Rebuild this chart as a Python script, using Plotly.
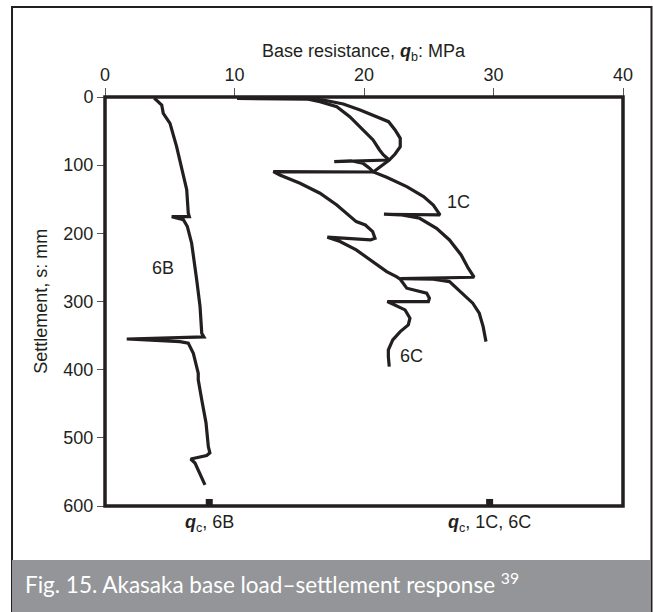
import plotly.graph_objects as go

# Base resistance q_b (MPa) against settlement s (mm) for the three test piles
pile_6b_q = [3.8, 4.38, 4.5, 5.02, 5.53, 6.05, 6.31, 6.43, 6.51, 5.15, 6.05, 6.36, 6.69,
             7.08, 7.34, 7.47, 7.64, 1.68, 5.79, 6.43, 6.82, 7.2, 7.2, 7.47, 7.8, 7.98,
             8.1, 7.85, 6.62, 6.95, 7.28, 7.72]
pile_6b_s = [1.5, 11.7, 24, 38.6, 72.8, 116.8, 136, 170.5, 175.5, 175.5, 180, 190, 214.5,
             268, 307.5, 346.5, 352, 355, 358.8, 361, 376, 405, 415, 444, 478, 513,
             522, 526, 531, 537, 552, 569]

pile_1c_q = [10.2, 13.5, 15.6, 16.6, 17.9, 18.9, 19.95, 20.7, 21.2, 21.5, 21.95, 17.7,
             19.0, 19.9, 20.4, 20.72, 21.75, 23.3, 24.6, 25.35, 25.87, 21.54, 22.8,
             24.3, 25.6, 26.6, 27.5, 28.05, 28.5, 22.8, 25.35, 26.6, 27.6, 28.4, 28.9,
             29.2, 29.42]
pile_1c_s = [2, 2, 3, 6.8, 14.2, 28.8, 48.4, 63, 77.7, 85, 92.4, 94.8,
             93.5, 97, 104, 110, 117.8, 131.5, 146, 158.4, 173, 172, 172.8,
             177.9, 192.6, 209.7, 231.7, 251.2, 264.4, 266.5, 267.3, 270.8, 287.8, 302.5, 317.2,
             336.8, 358.8]

pile_6c_q = [10.2, 15.6, 16.86, 18.4, 19.7, 20.98, 21.9, 22.4, 22.8, 22.8, 22.4, 21.95,
             21.2, 20.72, 13.0, 13.5, 15.06, 16.6, 17.9, 18.9, 19.4, 20.1, 20.67, 20.85,
             20.5, 17.17, 18.15, 19.4, 20.7, 21.75, 22.5, 22.8, 23.3, 24.07, 24.84,
             25.05, 24.97, 21.8, 22.52, 23.17, 23.55, 23.42, 22.8, 22.22, 21.88, 21.88,
             21.95]
pile_6c_s = [1, 2, 4.4, 10.3, 19, 28.8, 36.2, 48.4, 60.6, 72.8, 83.6, 92.4,
             103.1, 110, 109.5, 114.4, 126.6, 141.2, 158.4, 175.5, 182.8, 187.7, 197.5, 207.2,
             209.7, 205.7, 212.1, 224.3, 241.5, 256.2, 263.5, 267.3, 280.5, 284, 287.8,
             295.2, 300.1, 300.1, 306.5, 312.3, 324.5, 334.3, 344.1, 356.3, 371, 380.8,
             395.4]

# Cone resistance q_c at the pile bases
qc_values = [8.05, 29.7]
qc_labels = ["<b><i>q</i></b><sub>c</sub>, 6B", "<b><i>q</i></b><sub>c</sub>, 1C, 6C"]

# Curve labels (name, q, s)
curve_labels = [("6B", 4.5, 251), ("1C", 27.3, 153.5), ("6C", 23.7, 380)]

x_ticks = [0, 10, 20, 30, 40]
y_ticks = [0, 100, 200, 300, 400, 500, 600]

INK = "#231f20"
FONT = "Liberation Sans, Arial, sans-serif"
FS = 18

fig = go.Figure()
for q, s in [(pile_6b_q, pile_6b_s), (pile_1c_q, pile_1c_s), (pile_6c_q, pile_6c_s)]:
    fig.add_trace(go.Scatter(x=q, y=s, mode="lines",
                             line=dict(color=INK, width=3.2), showlegend=False,
                             hoverinfo="skip"))

fig.add_trace(go.Scatter(x=qc_values, y=[594.8] * len(qc_values), mode="markers",
                         marker=dict(symbol="square", size=7, color=INK),
                         cliponaxis=False, showlegend=False, hoverinfo="skip"))

annotations = []
for name, q, s in curve_labels:
    annotations.append(dict(x=q, y=s, xref="x", yref="y", text=name, showarrow=False,
                            font=dict(family=FONT, size=FS, color=INK)))
for q, lab in zip(qc_values, qc_labels):
    annotations.append(dict(x=q, y=-0.042, xref="x", yref="paper", text=lab,
                            showarrow=False, yanchor="middle",
                            font=dict(family=FONT, size=FS, color=INK)))

annotations.append(dict(x=0.5, y=1.11, xref="paper", yref="paper",
                        text="Base resistance, <b><i>q</i></b><sub>b</sub>: MPa",
                        showarrow=False, yanchor="middle",
                        font=dict(family=FONT, size=FS, color=INK)))
annotations.append(dict(x=-0.125, y=0.5, xref="paper", yref="paper",
                        text="Settlement, s: mm", textangle=-90, showarrow=False,
                        xanchor="center", yanchor="middle",
                        font=dict(family=FONT, size=FS, color=INK)))
annotations.append(dict(x=-0.158, y=-0.188, xref="paper", yref="paper",
                        text="Fig. 15. Akasaka base load\u2013settlement response <sup>39</sup>",
                        showarrow=False, xanchor="left", yanchor="middle",
                        font=dict(family="Lato, Open Sans, sans-serif", size=22.5,
                                  color="white")))

shapes = [
    # outer figure border
    dict(type="rect", xref="paper", yref="paper", x0=-0.1795, x1=1.055, y0=-0.27, y1=1.22,
         line=dict(color=INK, width=2), fillcolor="rgba(0,0,0,0)", layer="below"),
    # caption band
    dict(type="rect", xref="paper", yref="paper", x0=-0.1795, x1=1.053, y0=-0.27, y1=-0.132,
         line=dict(width=0), fillcolor="#939598", layer="below"),
    # plot frame
    dict(type="rect", xref="paper", yref="paper", x0=0, x1=1, y0=0, y1=1,
         line=dict(color=INK, width=3.5), fillcolor="rgba(0,0,0,0)", layer="above"),
]

fig.update_layout(
    width=653, height=612,
    margin=dict(l=105, r=30, t=97, b=106, pad=0),
    paper_bgcolor="white", plot_bgcolor="white",
    annotations=annotations, shapes=shapes,
    xaxis=dict(side="top", range=[0, 40], tickvals=x_ticks, ticks="outside", ticklen=8,
               tickcolor="#555", tickwidth=1, showgrid=False, zeroline=False,
               showline=False, tickfont=dict(family=FONT, size=FS, color=INK)),
    yaxis=dict(range=[600, 0], tickvals=y_ticks, ticks="outside", ticklen=7,
               tickcolor="#555", tickwidth=1, showgrid=False, zeroline=False,
               showline=False, tickfont=dict(family=FONT, size=FS, color=INK)),
)

fig.write_html("out.html")
